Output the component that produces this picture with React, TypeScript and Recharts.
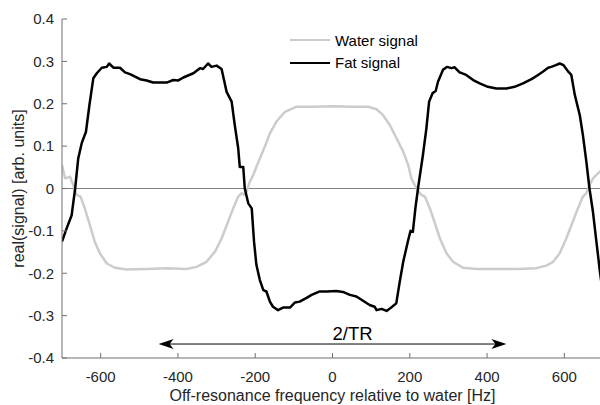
import { LineChart, Line, XAxis, YAxis, ReferenceLine, Legend } from 'recharts'

const FONT = '"Liberation Sans", Arial, Helvetica, sans-serif'
const AXIS = '#707070'
const TEXT = '#262626'

// off-resonance frequency [Hz] and real part of the signal, water
const waterHz = [
  -700, -692, -679, -671, -662, -652, -641, -628, -615, -602, -584, -563, -533, -481, -429, -378,
  -352, -326, -304, -287, -270, -257, -244, -235, -229, -222, -214, -205, -197, -188, -175, -162,
  -145, -123, -93, -50, 0, 53, 92, 114, 131, 148, 166, 183, 196, 204, 213, 226, 230, 239, 252,
  265, 278, 295, 312, 338, 372, 424, 476, 528, 553, 571, 588, 605, 622, 635, 648, 657, 665, 674,
  683, 692, 700,
]
const waterSignal = [
  0.055, 0.024, 0.028, 0.008, -0.015, -0.019, -0.047, -0.086, -0.126, -0.153, -0.177, -0.187,
  -0.191, -0.19, -0.188, -0.19, -0.185, -0.173, -0.149, -0.118, -0.078, -0.047, -0.019, -0.011,
  -0.015, -0.007, 0.016, 0.032, 0.051, 0.071, 0.099, 0.13, 0.158, 0.181, 0.193, 0.193, 0.194,
  0.193, 0.193, 0.187, 0.173, 0.15, 0.118, 0.087, 0.055, 0.024, 0.008, -0.011, -0.015, -0.019,
  -0.047, -0.082, -0.118, -0.153, -0.173, -0.187, -0.19, -0.19, -0.19, -0.188, -0.182, -0.173,
  -0.153, -0.118, -0.078, -0.047, -0.019, -0.011, 0.008, 0.024, 0.032, 0.04, 0.048,
]

// same axis, fat
const fatHz = [
  -700, -688, -675, -666, -658, -649, -638, -629, -619, -610, -597, -584, -578, -567, -550, -537,
  -524, -498, -481, -464, -447, -429, -412, -399, -386, -360, -343, -335, -322, -313, -300, -287,
  -274, -261, -253, -244, -240, -231, -227, -218, -209, -203, -197, -188, -179, -171, -162, -154,
  -141, -128, -110, -97, -85, -67, -54, -33, -15, 10, 27, 45, 62, 79, 96, 109, 114, 127, 140, 152,
  165, 174, 183, 195, 202, 208, 215, 222, 234, 243, 250, 259, 267, 273, 286, 296, 308, 316, 329,
  346, 364, 381, 402, 424, 450, 471, 493, 515, 532, 545, 558, 566, 578, 588, 598, 609, 618, 627,
  640, 648, 657, 665, 674, 683, 692, 700,
]
const fatSignal = [
  -0.125, -0.094, -0.063, 0.0, 0.071, 0.107, 0.134, 0.197, 0.26, 0.272, 0.285, 0.287, 0.295,
  0.285, 0.285, 0.274, 0.27, 0.258, 0.255, 0.25, 0.25, 0.25, 0.256, 0.255, 0.262, 0.272, 0.284,
  0.282, 0.295, 0.287, 0.29, 0.282, 0.228, 0.205, 0.15, 0.095, 0.051, 0.051, 0.0, -0.035, -0.047,
  -0.126, -0.18, -0.216, -0.24, -0.243, -0.267, -0.279, -0.287, -0.281, -0.281, -0.269, -0.267,
  -0.258, -0.251, -0.243, -0.243, -0.242, -0.244, -0.251, -0.255, -0.265, -0.275, -0.279, -0.287,
  -0.284, -0.289, -0.281, -0.271, -0.22, -0.173, -0.125, -0.1, -0.102, -0.043, 0.005, 0.079,
  0.142, 0.205, 0.225, 0.23, 0.252, 0.28, 0.287, 0.284, 0.286, 0.274, 0.268, 0.256, 0.248, 0.24,
  0.236, 0.236, 0.24, 0.248, 0.258, 0.268, 0.276, 0.285, 0.287, 0.291, 0.295, 0.291, 0.277, 0.268,
  0.221, 0.173, 0.126, 0.063, 0.0, -0.055, -0.126, -0.196, -0.25,
]

const seriesNames = ['Water signal', 'Fat signal']
const xTicks = [-600, -400, -200, 0, 200, 400, 600]
const yTicks = [-0.4, -0.3, -0.2, -0.1, 0, 0.1, 0.2, 0.3, 0.4]

// 2/TR marker: arrow ends in Hz and its height on the signal axis
const spanHz = [-450, 450]
const spanLevel = -0.367

const toPoints = (hz: number[], signal: number[]) => hz.map((f, i) => ({ hz: f, signal: signal[i] }))
const waterData = toPoints(waterHz, waterSignal)
const fatData = toPoints(fatHz, fatSignal)

const fmtY = (v: number) => String(Number(v.toFixed(1)))

// ticks point into the plot, labels stay outside
const YTick = ({ x, y, payload }: any) => (
  <g>
    <line x1={x + 8} x2={x + 13} y1={y} y2={y} stroke={AXIS} />
    <text x={x} y={y} dy="0.35em" textAnchor="end" fontSize={15} fontFamily={FONT} fill={TEXT}>
      {fmtY(payload.value)}
    </text>
  </g>
)

const XTick = ({ x, y, payload }: any) => (
  <g>
    <line x1={x} x2={x} y1={y} y2={y - 5} stroke={AXIS} />
    <text x={x} y={y + 24} textAnchor="middle" fontSize={15} fontFamily={FONT} fill={TEXT}>
      {payload.value}
    </text>
  </g>
)

const XTitle = ({ viewBox }: any) => (
  <text
    x={viewBox.x + viewBox.width / 2}
    y={viewBox.y + viewBox.height - 4}
    textAnchor="middle"
    fontSize={16}
    fontFamily={FONT}
    fill={TEXT}
  >
    Off-resonance frequency relative to water [Hz]
  </text>
)

const YTitle = ({ viewBox }: any) => {
  const cx = viewBox.x + 24
  const cy = viewBox.y + viewBox.height / 2
  return (
    <text
      x={cx}
      y={cy}
      transform={`rotate(-90, ${cx}, ${cy})`}
      textAnchor="middle"
      fontSize={16}
      fontFamily={FONT}
      fill={TEXT}
    >
      real(signal) [arb. units]
    </text>
  )
}

// double-headed arrow with the 2/TR label starting at its midpoint
const SpanArrow = ({ x1, y1, x2 }: any) => {
  const len = 15
  const half = 5
  const notch = 4
  const left = `M${x1},${y1} L${x1 + len},${y1 - half} L${x1 + len - notch},${y1} L${x1 + len},${y1 + half} Z`
  const right = `M${x2},${y1} L${x2 - len},${y1 - half} L${x2 - len + notch},${y1} L${x2 - len},${y1 + half} Z`
  return (
    <g>
      <line x1={x1 + 5} y1={y1} x2={x2 - 5} y2={y1} stroke="#000" strokeWidth={1} />
      <path d={left} fill="#000" />
      <path d={right} fill="#000" />
      <text x={(x1 + x2) / 2} y={y1 - 4} fontSize={18.5} fontFamily={FONT} fill="#000">
        2/TR
      </text>
    </g>
  )
}

const renderLegend = ({ payload }: any) => {
  const items = [...(payload || [])].sort(
    (a: any, b: any) => seriesNames.indexOf(a.value) - seriesNames.indexOf(b.value),
  )
  return (
    <div style={{ fontFamily: FONT, fontSize: 15, color: '#000' }}>
      {items.map((entry: any) => (
        <div key={entry.value} style={{ display: 'flex', alignItems: 'center', height: 22.5 }}>
          <span style={{ width: 40, height: 0, borderTop: `2.5px solid ${entry.color}`, marginRight: 5 }} />
          <span>{entry.value}</span>
        </div>
      ))}
    </div>
  )
}

export default function App() {
  return (
    <div
      style={{
        position: 'absolute',
        left: 0,
        top: 0,
        width: 600,
        height: 405,
        overflow: 'hidden',
        background: '#fff',
      }}
    >
      <LineChart width={610} height={405} margin={{ top: 19, right: 7, left: 0, bottom: 0 }}>
        <XAxis
          dataKey="hz"
          type="number"
          domain={[-700, 700]}
          ticks={xTicks}
          interval={0}
          allowDataOverflow
          height={47}
          stroke={AXIS}
          tickSize={0}
          tickMargin={0}
          tickLine={false}
          tick={<XTick />}
          label={{ content: <XTitle /> }}
        />
        <YAxis
          type="number"
          domain={[-0.4, 0.4]}
          ticks={yTicks}
          interval={0}
          allowDataOverflow
          width={62}
          stroke={AXIS}
          tickSize={0}
          tickMargin={8}
          tickLine={false}
          tick={<YTick />}
          label={{ content: <YTitle /> }}
        />
        <ReferenceLine y={0} stroke="#808080" strokeWidth={1} />
        <ReferenceLine
          segment={[
            { x: spanHz[0], y: spanLevel },
            { x: spanHz[1], y: spanLevel },
          ]}
          shape={(props: any) => <SpanArrow {...props} />}
        />
        <Legend
          layout="vertical"
          align="center"
          verticalAlign="middle"
          content={renderLegend}
          wrapperStyle={{ left: 290, top: 29, width: 200 }}
        />
        <Line
          data={waterData}
          dataKey="signal"
          name={seriesNames[0]}
          type="linear"
          stroke="#cccccc"
          strokeWidth={2.5}
          strokeLinejoin="round"
          dot={false}
          activeDot={false}
          isAnimationActive={false}
        />
        <Line
          data={fatData}
          dataKey="signal"
          name={seriesNames[1]}
          type="linear"
          stroke="#000000"
          strokeWidth={2.5}
          strokeLinejoin="round"
          dot={false}
          activeDot={false}
          isAnimationActive={false}
        />
      </LineChart>
    </div>
  )
}
